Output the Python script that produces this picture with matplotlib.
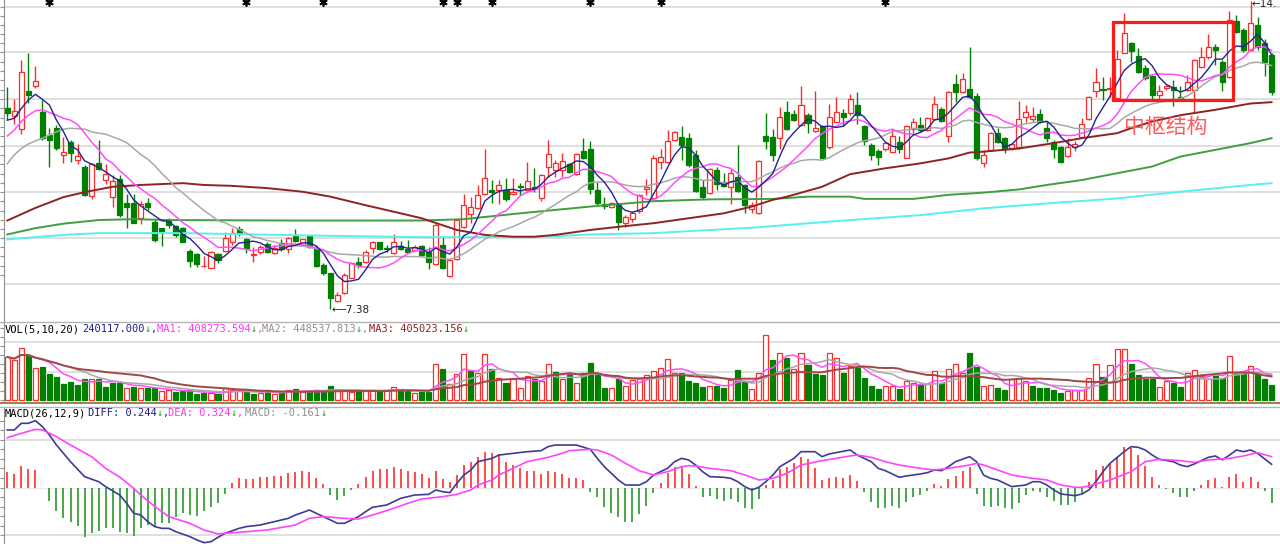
import numpy as np
import pandas as pd
import matplotlib
matplotlib.use("Agg")
import matplotlib.pyplot as plt
from matplotlib.patches import Rectangle
from matplotlib.lines import Line2D

plt.rcParams['font.family'] = ['Noto Sans CJK SC', 'DejaVu Sans']

# ---- daily candles ----
opens = [11.86, 11.67, 11.38, 12.23, 12.35, 11.77, 11.25, 11.40, 10.81, 11.10,
         10.69, 10.55, 9.90, 10.62, 10.26, 9.88, 10.27, 9.74, 9.74, 9.40,
         9.75, 9.31, 9.18, 9.34, 9.23, 9.18, 8.68, 8.61, 8.33, 8.30,
         8.60, 8.68, 8.87, 9.16, 8.95, 8.58, 8.66, 8.82, 8.62, 8.84,
         8.72, 9.01, 8.81, 9.01, 8.73, 8.36, 8.18, 7.56, 7.73, 8.08,
         8.43, 8.43, 8.75, 8.87, 8.75, 8.62, 8.78, 8.72, 8.69, 8.78,
         8.66, 8.38, 8.81, 8.12, 8.49, 9.20, 9.49, 9.62, 9.94, 10.03,
         10.03, 10.03, 9.93, 10.12, 10.03, 10.10, 9.84, 10.53, 10.47, 10.47,
         10.60, 10.38, 10.89, 10.93, 10.03, 9.72, 9.64, 9.72, 9.30, 9.38,
         9.57, 10.04, 9.84, 10.64, 10.64, 11.14, 11.20, 11.18, 10.81, 10.10,
         9.97, 10.47, 10.21, 10.10, 10.31, 10.14, 9.60, 9.51, 11.23, 11.21,
         11.19, 11.77, 11.72, 11.47, 11.69, 11.34, 11.45, 10.98, 11.55, 11.75,
         11.73, 11.92, 11.45, 11.03, 10.90, 10.95, 10.88, 11.10, 10.75, 11.38,
         11.47, 11.36, 11.60, 11.83, 11.23, 12.38, 12.21, 12.27, 12.12, 10.63,
         10.92, 11.30, 11.18, 10.97, 10.99, 11.64, 11.61, 11.72, 11.40, 11.10,
         10.98, 10.78, 10.98, 11.21, 11.60, 12.23, 12.27, 12.27, 12.07, 13.08,
         13.30, 13.01, 12.73, 12.56, 12.14, 12.29, 12.32, 12.10, 12.25, 12.25,
         12.77, 12.98, 13.21, 12.88, 12.55, 13.79, 13.58, 13.14, 13.69, 13.29,
         13.03]
closes = [11.75, 11.78, 12.64, 12.15, 12.45, 11.19, 11.15, 10.96, 10.87, 10.86,
          10.78, 9.91, 10.60, 10.49, 10.38, 10.23, 9.47, 9.66, 9.30, 9.72,
          9.66, 8.92, 9.12, 9.25, 9.03, 8.88, 8.46, 8.38, 8.35, 8.66,
          8.47, 8.97, 9.08, 9.08, 8.73, 8.60, 8.77, 8.66, 8.75, 8.71,
          8.97, 8.90, 8.93, 8.77, 8.34, 8.18, 7.62, 7.69, 8.14, 8.41,
          8.36, 8.66, 8.87, 8.71, 8.71, 8.88, 8.71, 8.66, 8.77, 8.58,
          8.43, 9.25, 8.29, 8.47, 9.36, 9.69, 9.66, 9.92, 10.29, 9.99,
          10.13, 9.82, 9.99, 10.09, 10.23, 10.08, 10.36, 10.82, 10.62, 10.67,
          10.43, 10.83, 10.75, 10.04, 9.73, 9.67, 9.73, 9.32, 9.43, 9.51,
          9.92, 10.10, 10.73, 10.77, 11.12, 11.31, 11.03, 10.58, 10.01, 9.88,
          10.49, 10.16, 10.12, 10.40, 10.01, 9.69, 9.69, 10.67, 11.12, 10.81,
          11.64, 11.38, 11.58, 11.92, 11.51, 11.40, 10.75, 11.66, 11.77, 11.64,
          12.04, 11.69, 11.12, 10.81, 10.77, 11.08, 11.23, 10.95, 11.45, 11.55,
          11.36, 11.62, 11.95, 11.57, 12.21, 12.21, 12.49, 12.10, 10.73, 10.81,
          11.30, 11.10, 10.95, 11.04, 11.60, 11.77, 11.68, 11.55, 11.18, 10.95,
          10.66, 10.98, 11.05, 11.49, 12.09, 12.43, 12.25, 12.29, 12.93, 13.51,
          13.12, 12.66, 12.51, 12.14, 12.23, 12.34, 12.25, 12.06, 12.43, 12.92,
          12.98, 13.21, 13.14, 12.43, 13.81, 13.55, 13.14, 13.73, 13.21, 12.88,
          12.21]
highs = [12.32, 12.04, 12.92, 13.08, 12.78, 12.03, 11.40, 11.47, 11.21, 11.14,
         11.05, 10.58, 10.62, 11.14, 10.60, 10.36, 10.36, 9.94, 9.94, 9.78,
         9.84, 9.38, 9.19, 9.40, 9.25, 9.21, 8.71, 8.62, 8.56, 8.68,
         8.63, 9.10, 9.18, 9.23, 8.97, 8.77, 8.81, 8.88, 8.81, 8.95,
         8.99, 9.16, 8.95, 9.03, 8.81, 8.40, 8.19, 7.77, 8.18, 8.43,
         8.55, 8.69, 8.89, 8.88, 8.81, 9.05, 8.90, 8.92, 8.81, 8.81,
         8.77, 9.29, 8.99, 8.49, 9.38, 9.94, 9.87, 10.14, 10.93, 10.25,
         10.25, 10.29, 10.30, 10.18, 10.66, 10.51, 10.38, 11.14, 10.69, 10.84,
         10.62, 10.84, 11.18, 11.12, 10.21, 9.88, 9.77, 9.75, 9.47, 9.56,
         9.95, 10.27, 10.81, 10.95, 11.36, 11.35, 11.46, 11.30, 10.92, 10.25,
         10.51, 10.55, 10.40, 10.49, 11.03, 10.16, 9.77, 10.69, 11.75, 11.39,
         11.87, 12.01, 11.81, 12.34, 11.73, 12.23, 11.47, 11.94, 12.10, 11.82,
         12.16, 12.21, 11.47, 11.07, 10.95, 11.10, 11.38, 11.23, 11.47, 11.62,
         11.66, 11.64, 12.12, 11.87, 12.22, 12.61, 12.62, 13.20, 12.18, 10.92,
         11.32, 11.40, 11.20, 11.07, 12.01, 11.92, 11.87, 11.82, 11.55, 11.14,
         11.01, 11.18, 11.12, 11.62, 12.12, 12.75, 12.55, 12.54, 13.14, 13.97,
         13.32, 13.18, 12.81, 12.58, 12.36, 12.36, 12.47, 12.34, 12.58, 12.95,
         13.21, 13.49, 13.27, 12.92, 14.01, 13.92, 13.62, 14.22, 13.88, 13.38,
         13.07]
lows = [11.58, 11.49, 11.27, 11.97, 12.29, 11.14, 10.53, 10.92, 10.62, 10.64,
        10.60, 9.90, 9.82, 10.47, 10.16, 9.66, 9.43, 9.18, 9.29, 9.27,
        9.58, 8.88, 8.78, 9.18, 8.99, 8.87, 8.32, 8.31, 8.31, 8.29,
        8.41, 8.66, 8.81, 9.01, 8.63, 8.43, 8.61, 8.62, 8.61, 8.68,
        8.63, 8.88, 8.78, 8.75, 8.32, 8.14, 7.38, 7.53, 7.71, 8.07,
        8.29, 8.41, 8.63, 8.69, 8.66, 8.61, 8.69, 8.63, 8.68, 8.57,
        8.27, 8.36, 8.27, 8.10, 8.47, 9.18, 9.29, 9.60, 9.92, 9.73,
        9.71, 9.79, 9.92, 9.92, 10.01, 9.99, 9.79, 10.32, 10.32, 10.32,
        10.40, 10.36, 10.72, 9.95, 9.69, 9.60, 9.62, 9.15, 9.21, 9.31,
        9.52, 9.92, 9.82, 10.49, 10.62, 11.12, 10.69, 10.53, 9.99, 9.82,
        9.95, 10.03, 10.09, 9.72, 9.99, 9.52, 9.51, 9.49, 10.95, 10.68,
        10.95, 11.36, 11.57, 11.45, 11.29, 11.32, 10.73, 10.95, 11.52, 11.45,
        11.69, 11.49, 11.03, 10.69, 10.58, 10.90, 10.86, 10.86, 10.73, 11.29,
        11.32, 11.35, 11.58, 11.55, 11.10, 11.99, 12.19, 12.07, 10.69, 10.53,
        10.90, 11.07, 10.84, 10.92, 10.95, 11.55, 11.55, 11.52, 11.10, 10.75,
        10.63, 10.77, 10.90, 11.18, 11.58, 12.10, 12.03, 12.09, 12.05, 13.07,
        12.88, 12.62, 12.47, 12.03, 12.04, 12.25, 11.89, 12.03, 12.23, 11.77,
        12.73, 12.95, 12.81, 12.23, 12.51, 13.51, 13.10, 13.12, 13.14, 12.56,
        12.14]
volumes = [702000, 650000, 854000, 734000, 517000, 539000, 430000, 381000, 267000, 299000,
           239000, 337000, 337000, 337000, 218000, 283000, 283000, 201000, 212000, 201000,
           190000, 190000, 147000, 158000, 131000, 147000, 158000, 92000, 120000, 120000,
           92000, 190000, 158000, 158000, 147000, 92000, 120000, 158000, 92000, 131000,
           158000, 174000, 136000, 147000, 158000, 147000, 228000, 147000, 158000, 131000,
           147000, 158000, 158000, 131000, 158000, 212000, 174000, 147000, 109000, 131000,
           131000, 593000, 500000, 256000, 419000, 756000, 473000, 446000, 756000, 511000,
           364000, 283000, 337000, 201000, 392000, 348000, 310000, 593000, 462000, 348000,
           419000, 283000, 446000, 609000, 419000, 201000, 201000, 348000, 228000, 321000,
           337000, 403000, 473000, 528000, 664000, 435000, 446000, 310000, 283000, 218000,
           228000, 228000, 201000, 321000, 490000, 299000, 185000, 446000, 1055000, 653000,
           772000, 680000, 500000, 762000, 577000, 419000, 413000, 772000, 680000, 446000,
           555000, 528000, 364000, 228000, 185000, 228000, 228000, 185000, 310000, 272000,
           267000, 256000, 473000, 283000, 511000, 593000, 446000, 762000, 539000, 228000,
           239000, 201000, 158000, 348000, 364000, 310000, 228000, 201000, 190000, 163000,
           120000, 147000, 163000, 163000, 364000, 582000, 381000, 566000, 827000, 838000,
           582000, 408000, 337000, 348000, 218000, 310000, 283000, 218000, 446000, 490000,
           392000, 348000, 392000, 364000, 718000, 430000, 430000, 555000, 419000, 348000,
           240117]

# first values of the short averages (need history before the window)
ma5_head = [11.58, 11.62, 11.84, 12.03]
ma10_head = [11.23, 11.36, 11.55, 11.69, 11.79, 11.81, 11.75, 11.69, 11.62]
ma20_head = [10.61, 10.81, 10.95, 11.05, 11.12, 11.18, 11.25, 11.32, 11.38, 11.40,
             11.39, 11.38, 11.32, 11.29, 11.27, 11.21, 11.15, 11.08, 10.95]

# long averages, read at a few points
ma60_idx = [0, 4, 8, 11, 15, 19, 25, 28, 32, 37, 42, 46, 51, 56, 59, 64, 68, 72, 75, 78,
            83, 87, 92, 97, 102, 106, 109, 111, 116, 120, 125, 130, 134, 137, 139, 144,
            149, 153, 158, 160, 163, 167, 172, 177, 180]
ma60_val = [9.35, 9.63, 9.87, 9.98, 10.10, 10.14, 10.18, 10.14, 10.12, 10.07, 9.99, 9.88,
            9.69, 9.51, 9.40, 9.14, 9.03, 8.99, 8.99, 9.03, 9.14, 9.21, 9.29, 9.40, 9.51,
            9.66, 9.81, 9.88, 10.10, 10.38, 10.51, 10.62, 10.73, 10.86, 10.88, 10.95,
            11.07, 11.18, 11.29, 11.40, 11.55, 11.69, 11.81, 11.95, 11.98]
ma120_idx = [0, 4, 8, 13, 18, 23, 40, 59, 65, 73, 83, 92, 100, 109, 114, 120, 122, 129,
             134, 139, 144, 148, 153, 158, 163, 167, 172, 177, 180]
ma120_val = [9.04, 9.18, 9.28, 9.36, 9.38, 9.36, 9.35, 9.35, 9.38, 9.51, 9.66, 9.78,
             9.82, 9.83, 9.88, 9.88, 9.83, 9.83, 9.92, 9.97, 10.04, 10.14, 10.25, 10.40,
             10.55, 10.77, 10.92, 11.07, 11.18]
ma250_idx = [0, 4, 8, 13, 25, 35, 46, 59, 75, 83, 92, 106, 120, 130, 139, 148, 158, 167,
             177, 180]
ma250_val = [8.93, 8.98, 9.03, 9.07, 9.07, 9.04, 9.01, 8.98, 8.98, 9.04, 9.07, 9.19,
             9.36, 9.47, 9.62, 9.73, 9.84, 9.99, 10.14, 10.18]

# MACD
diff_idx = [0, 1, 2, 3, 4, 5, 6, 7, 8, 9, 11, 13, 14, 16, 17, 18, 19, 20, 21, 22, 23, 24,
            26, 27, 28, 29, 30, 31, 33, 34, 36, 38, 40, 41, 42, 43, 44, 45, 47, 48, 49, 50,
            51, 52, 54, 55, 56, 58, 60, 61, 62, 63, 64, 65, 66, 67, 69, 70, 72, 74, 76, 77,
            78, 81, 83, 84, 85, 86, 87, 88, 90, 91, 92, 94, 95, 96, 97, 98, 99, 100, 102,
            103, 104, 105, 106, 107, 108, 109, 110, 112, 113, 115, 116, 117, 118, 120, 121,
            123, 124, 125, 126, 127, 128, 130, 131, 132, 133, 134, 135, 137, 138, 139, 140,
            141, 142, 143, 145, 146, 147, 148, 149, 150, 152, 153, 154, 155, 156, 157, 159,
            160, 161, 162, 163, 164, 166, 167, 168, 169, 170, 171, 172, 173, 174, 175, 176,
            177, 178, 180]
diff_val = [0.604, 0.604, 0.674, 0.674, 0.702, 0.639, 0.551, 0.446, 0.359, 0.271, 0.114,
            0.061, 0.009, -0.079, -0.166, -0.271, -0.289, -0.359, -0.411, -0.429, -0.429,
            -0.464, -0.516, -0.551, -0.579, -0.569, -0.523, -0.481, -0.429, -0.411, -0.394,
            -0.359, -0.324, -0.289, -0.264, -0.236, -0.271, -0.306, -0.376, -0.376, -0.341,
            -0.306, -0.254, -0.208, -0.184, -0.149, -0.114, -0.079, -0.072, -0.026, -0.044,
            -0.054, 0.044, 0.131, 0.184, 0.271, 0.306, 0.341, 0.359, 0.376, 0.387, 0.429,
            0.446, 0.446, 0.401, 0.306, 0.219, 0.149, 0.079, 0.026, 0.026, 0.061, 0.131,
            0.201, 0.271, 0.306, 0.289, 0.236, 0.166, 0.114, 0.107, 0.096, 0.061, 0.009,
            -0.026, 0.002, 0.061, 0.131, 0.219, 0.306, 0.376, 0.376, 0.324, 0.352, 0.366,
            0.394, 0.341, 0.271, 0.201, 0.177, 0.142, 0.107, 0.121, 0.142, 0.156, 0.184,
            0.177, 0.219, 0.271, 0.324, 0.271, 0.131, 0.096, 0.079, 0.044, 0.009, 0.026,
            0.061, 0.061, 0.026, -0.026, -0.068, -0.086, -0.068, -0.026, 0.061, 0.166,
            0.254, 0.376, 0.429, 0.422, 0.394, 0.341, 0.296, 0.271, 0.236, 0.219, 0.247,
            0.282, 0.317, 0.331, 0.290, 0.340, 0.394, 0.376, 0.394, 0.359, 0.244]
dea_idx = [0, 2, 4, 5, 7, 9, 12, 14, 16, 18, 19, 21, 23, 26, 28, 30, 31, 34, 37, 41, 43,
           45, 48, 50, 52, 55, 57, 59, 62, 64, 66, 67, 69, 70, 72, 74, 77, 79, 80, 83, 84,
           86, 88, 90, 92, 94, 96, 97, 98, 100, 103, 105, 107, 109, 111, 113, 116, 118,
           120, 121, 123, 125, 127, 130, 132, 134, 137, 138, 139, 141, 143, 146, 148, 150,
           152, 153, 154, 155, 157, 160, 162, 164, 167, 169, 171, 174, 176, 178, 180]
dea_val = [0.523, 0.569, 0.611, 0.604, 0.534, 0.446, 0.324, 0.201, 0.110, -0.009, -0.080,
           -0.200, -0.306, -0.376, -0.446, -0.488, -0.481, -0.464, -0.446, -0.394, -0.324,
           -0.306, -0.324, -0.331, -0.289, -0.219, -0.166, -0.121, -0.096, -0.072, -0.026,
           0.026, 0.079, 0.131, 0.201, 0.271, 0.317, 0.359, 0.387, 0.401, 0.394, 0.341,
           0.254, 0.175, 0.131, 0.166, 0.219, 0.229, 0.226, 0.201, 0.177, 0.131, 0.079,
           0.096, 0.149, 0.236, 0.282, 0.306, 0.331, 0.341, 0.317, 0.271, 0.236, 0.201,
           0.184, 0.201, 0.236, 0.254, 0.236, 0.184, 0.131, 0.096, 0.079, 0.026, 0.002,
           0.002, 0.016, 0.037, 0.079, 0.166, 0.271, 0.296, 0.282, 0.264, 0.289, 0.306,
           0.331, 0.366, 0.324]
macd_hist = [0.166, 0.142, 0.226, 0.191, 0.184, -0.009, -0.138, -0.243, -0.324, -0.359,
             -0.404, -0.516, -0.474, -0.453, -0.429, -0.429, -0.464, -0.481, -0.509, -0.429,
             -0.394, -0.411, -0.376, -0.376, -0.313, -0.271, -0.289, -0.299, -0.243, -0.208,
             -0.166, -0.068, 0.044, 0.096, 0.086, 0.093, 0.107, 0.114, 0.121, 0.121,
             0.156, 0.166, 0.177, 0.166, 0.096, 0.037, -0.079, -0.131, -0.089, -0.026,
             0.037, 0.107, 0.177, 0.191, 0.191, 0.212, 0.191, 0.177, 0.166, 0.142,
             0.096, 0.173, 0.086, 0.061, 0.131, 0.236, 0.271, 0.324, 0.376, 0.366,
             0.352, 0.271, 0.236, 0.201, 0.177, 0.177, 0.142, 0.177, 0.166, 0.142,
             0.096, 0.096, 0.079, -0.044, -0.096, -0.201, -0.271, -0.306, -0.359, -0.359,
             -0.280, -0.194, -0.061, 0.044, 0.156, 0.219, 0.219, 0.142, 0.016, -0.103,
             -0.089, -0.124, -0.138, -0.124, -0.149, -0.219, -0.229, -0.124, 0.026, 0.079,
             0.191, 0.219, 0.261, 0.317, 0.296, 0.201, 0.079, 0.096, 0.107, 0.096,
             0.131, 0.072, -0.044, -0.149, -0.219, -0.219, -0.194, -0.219, -0.149, -0.096,
             -0.079, -0.033, 0.037, 0.016, 0.086, 0.121, 0.177, 0.219, -0.068, -0.194,
             -0.201, -0.194, -0.219, -0.229, -0.159, -0.079, -0.033, -0.044, -0.096, -0.138,
             -0.184, -0.184, -0.149, -0.061, 0.061, 0.184, 0.226, 0.247, 0.324, 0.429,
             0.411, 0.341, 0.226, 0.107, 0.026, -0.019, -0.054, -0.103, -0.096, -0.033,
             0.026, 0.079, 0.096, 0.005, 0.114, 0.142, 0.061, 0.107, 0.061, -0.033,
             -0.161]

star_idx = [6, 34, 45, 62, 64, 69, 83, 93, 125]
grid_levels = [14.09, 13.09, 12.05, 11.01, 9.98, 8.96, 7.94]
vol_grid = [457000, 947000]

RED = '#ff2a2a'
GREEN = '#008000'
W, H = 1280, 544

fig = plt.figure(figsize=(W / 100, H / 100), dpi=100)
fig.patch.set_facecolor('white')


def px_axes(top, bottom, left=4, right=W):
    a = fig.add_axes([left / W, 1 - bottom / H, (right - left) / W, (bottom - top) / H])
    a.set_facecolor('white')
    for s in ('top', 'right', 'bottom'):
        a.spines[s].set_visible(False)
    a.spines['left'].set_color('#909090')
    a.set_xticks([])
    a.tick_params(axis='y', direction='out', length=3, color='#909090', labelleft=False)
    a.set_xlim(-0.47, 181.2)
    return a


ax = px_axes(0, 321)
axv = px_axes(322, 402)
axm = px_axes(407, 544)

o = np.array(opens)
c = np.array(closes)
hi = np.array(highs)
lo = np.array(lows)
x = np.arange(len(c))
up = c >= o
top = np.maximum(o, c)
bot = np.minimum(o, c)
cols = np.where(up, RED, GREEN)
BW = 0.72

# ---- price panel ----
ax.set_ylim(7.117, 14.25)
for g in grid_levels:
    ax.axhline(g, color='#dcdcdc', lw=1.3, zorder=0)
ticks = []
for a, b in zip(grid_levels[:-1], grid_levels[1:]):
    ticks += list(np.linspace(a, b, 6)[:-1])
ax.set_yticks(ticks)

ax.vlines(x, top, hi, colors=cols, lw=1.0, zorder=2)
ax.vlines(x, lo, bot, colors=cols, lw=1.0, zorder=2)
for i in x:
    ax.add_patch(Rectangle((i - BW / 2, bot[i]), BW, max(top[i] - bot[i], 0.012),
                           facecolor='white' if up[i] else GREEN, edgecolor=cols[i],
                           lw=0.9, zorder=2))

cs = pd.Series(c)
ma5 = cs.rolling(5).mean().to_numpy()
ma5[:4] = ma5_head
ma10 = cs.rolling(10).mean().to_numpy()
ma10[:9] = ma10_head
ma20 = cs.rolling(20).mean().to_numpy()
ma20[:19] = ma20_head

ax.plot(ma250_idx, ma250_val, color='#55f0f0', lw=1.4, zorder=3)
ax.plot(ma120_idx, ma120_val, color='#3f9f3f', lw=1.4, zorder=3)
ax.plot(ma60_idx, ma60_val, color='#8e2323', lw=1.4, zorder=3)
ax.plot(x, ma20, color='#a8a8a8', lw=1.1, zorder=3)
ax.plot(x, ma10, color='#ff4dff', lw=1.1, zorder=3)
ax.plot(x, ma5, color='#23238e', lw=1.0, zorder=3)

ax.plot(star_idx, [14.21] * len(star_idx), ls='none', marker=(6, 2, 0), ms=6,
        mew=1.2, color='black', zorder=4)

ax.text(46.1, 7.36, '\u27f57.38', fontsize=7.5, family=['DejaVu Sans'], va='center',
        ha='left', color='#202020', zorder=5)
ax.text(177.15, 14.16, '\u219014.', fontsize=7.5, family=['DejaVu Sans'],
        va='center', ha='left', color='#202020', zorder=5)

ax.add_patch(Rectangle((157.4, 12.03), 17.1, 1.73, fill=False, edgecolor='#ff1a1a',
                       lw=2.3, zorder=6))
ax.text(165.0, 11.43, '中枢结构', color='#ff5a5a', fontsize=15, ha='center', va='center',
        zorder=6)

# ---- volume panel ----
VPX = 16334.0
axv.set_ylim(-2 * VPX, 78 * VPX)
axv.set_yticks(np.arange(0, 78 * VPX, 9 * VPX))
for g in vol_grid:
    axv.axhline(g, color='#dcdcdc', lw=1.3, zorder=0)
v = np.array(volumes, dtype=float)
vol_up = np.r_[True, c[1:] >= c[:-1]]
axv.bar(x[vol_up], v[vol_up], width=BW, facecolor='white', edgecolor=RED, lw=0.9, zorder=2)
axv.bar(x[~vol_up], v[~vol_up], width=BW, facecolor=GREEN, edgecolor=GREEN, lw=0.9, zorder=2)
vs = pd.Series(v)
axv.plot(x, vs.rolling(5, min_periods=1).mean(), color='#ff4dff', lw=1.1, zorder=3)
axv.plot(x, vs.rolling(10, min_periods=1).mean(), color='#a8a8a8', lw=1.1, zorder=3)
axv.plot(x, vs.rolling(20, min_periods=1).mean(), color='#a04848', lw=1.4, zorder=3)

# ---- MACD panel ----
MPX = 0.0105
axm.set_ylim((487.5 - 544) * MPX, (487.5 - 407) * MPX)
axm.set_yticks(np.arange(-0.5, 0.8, 0.1))
for g in (-0.5, 0.5):
    axm.axhline(g, color='#dcdcdc', lw=1.3, zorder=0)
axm.axhline(0, color='#ececec', lw=1.0, zorder=0)
hv = np.array(macd_hist)
axm.vlines(x, 0, hv, colors=np.where(hv >= 0, '#ff3b3b', '#3a9e3a'), lw=1.3, zorder=2)
axm.plot(diff_idx, diff_val, color='#3c3c96', lw=1.2, zorder=3)
axm.plot(dea_idx, dea_val, color='#ff44ff', lw=1.2, zorder=3)

# ---- separators and headers ----
fig.add_artist(Line2D([0, 1], [1 - 322 / H] * 2, color='#b4b4b4', lw=1.0))
fig.add_artist(Line2D([0, 1], [1 - 402.5 / H] * 2, color='#2e9e2e', lw=1.2))
fig.add_artist(Line2D([0, 1], [1 - 402.5 / H] * 2, color='#ff5050', lw=1.2,
                      dashes=(2.2, 2.2)))
fig.add_artist(Line2D([0, 1], [1 - 407 / H] * 2, color='#b4b4b4', lw=1.0))

CW = 6.27


def hdr(xp, yp, s, color):
    fig.text(xp / W, 1 - yp / H, s, color=color, fontsize=7.5,
             family=['DejaVu Sans Mono'], va='center', ha='left')


def field(xp, yp, s, color, comma=True):
    hdr(xp, yp, s, color)
    hdr(xp + len(s) * CW, yp, '\u2193', '#1a9a1a')
    if comma:
        hdr(xp + (len(s) + 1) * CW, yp, ',', color)


hdr(5, 329, 'VOL(5,10,20)', 'black')
field(82, 329, '240117.000', '#1c1c8c')
field(157, 329, 'MA1: 408273.594', '#ff33ff')
field(262, 329, 'MA2: 448537.813', '#909090')
field(369, 329, 'MA3: 405023.156', '#8e2323', comma=False)

hdr(5, 413, 'MACD(26,12,9)', 'black')
field(88, 413, 'DIFF: 0.244', '#1c1c8c')
field(168, 413, 'DEA: 0.324', '#ff33ff')
field(245, 413, 'MACD: -0.161', '#909090', comma=False)

fig.savefig('out.png', dpi=100)
